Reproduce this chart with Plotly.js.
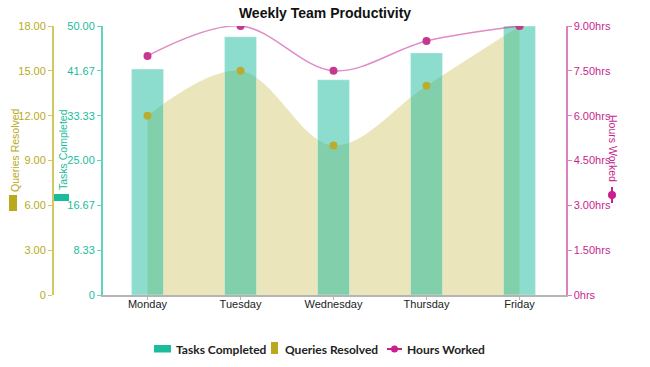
<!DOCTYPE html>
<html>
<head>
<meta charset="utf-8">
<script src="https://cdn.plot.ly/plotly-3.0.1.min.js"></script>
<style>
html,body{margin:0;padding:0;background:#fff;}
#chart{width:650px;height:367px;}
</style>
</head>
<body>
<div id="chart"></div>
<script>
// ---- data ----
const days = ['Monday', 'Tuesday', 'Wednesday', 'Thursday', 'Friday'];
const tasksCompleted = [42, 48, 40, 45, 50];
const queriesResolved = [12, 15, 10, 14, 18];
const hoursWorked = [8, 9, 7.5, 8.5, 9];

const queryTickVals = [0, 3, 6, 9, 12, 15, 18];
const queryTickText = ['0', '3.00', '6.00', '9.00', '12.00', '15.00', '18.00'];
const taskTickVals = [0, 8.333333, 16.666667, 25, 33.333333, 41.666667, 50];
const taskTickText = ['0', '8.33', '16.67', '25.00', '33.33', '41.67', '50.00'];
const hourTickVals = [0, 1.5, 3, 4.5, 6, 7.5, 9];
const hourTickText = ['0hrs', '1.50hrs', '3.00hrs', '4.50hrs', '6.00hrs', '7.50hrs', '9.00hrs'];

// ---- style ----
const olive = '#b8aa1c', oliveLine = '#d3c85e';
const teal = '#1abc9c', tealLine = '#62d4bd';
const pink = '#c71f8e', pinkLine = '#dc80c0';
const fontFam = 'Liberation Sans, Arial, sans-serif';
const legFam = 'Lato, Noto Sans, sans-serif';

// layout helpers: pixel -> paper coordinates (plot frame 52..566 x 26..295)
const L = 52, R = 566, T = 26, B = 295;
const px = v => (v - L) / (R - L);
const py = v => (B - v) / (B - T);

const traces = [
  {
    type: 'scatter', name: 'Queries Resolved', x: days, y: queriesResolved,
    xaxis: 'x', yaxis: 'y', mode: 'lines', fill: 'tozeroy',
    fillcolor: 'rgba(184,170,28,0.3)',
    line: {shape: 'spline', smoothing: 1, width: 0, color: 'rgba(0,0,0,0)'},
    showlegend: false
  },
  {
    type: 'bar', name: 'Tasks Completed', x: days, y: tasksCompleted,
    xaxis: 'x', yaxis: 'y2', width: 0.345,
    marker: {color: 'rgba(26,188,156,0.5)', line: {color: 'rgba(255,255,255,0.35)', width: 1}},
    showlegend: false
  },
  {
    type: 'scatter', name: 'Queries Resolved', x: days, y: queriesResolved,
    xaxis: 'x', yaxis: 'y3', mode: 'markers',
    marker: {size: 8, color: '#b9ac2e'}, showlegend: false
  },
  {
    type: 'scatter', name: 'Hours Worked', x: days, y: hoursWorked,
    xaxis: 'x', yaxis: 'y4', mode: 'lines+markers',
    line: {shape: 'spline', smoothing: 1, width: 1.5, color: 'rgba(204,60,160,0.6)'},
    marker: {size: 8, color: '#c5388f'}, showlegend: false
  }
];

const tickFont = c => ({family: fontFam, size: 11, color: c});

const shapes = [
  // axis-title icons
  {type: 'rect', xref: 'paper', yref: 'paper', x0: px(9), x1: px(17), y0: py(211), y1: py(195),
   fillcolor: olive, line: {width: 0}},
  {type: 'rect', xref: 'paper', yref: 'paper', x0: px(54), x1: px(69), y0: py(201), y1: py(194),
   fillcolor: teal, line: {width: 0}},
  {type: 'line', xref: 'paper', yref: 'paper', x0: px(612), x1: px(612), y0: py(187), y1: py(203),
   line: {color: pink, width: 2}},
  {type: 'circle', xref: 'paper', yref: 'paper', x0: px(608), x1: px(616), y0: py(199), y1: py(191),
   fillcolor: pink, line: {width: 0}},
  // legend swatches
  {type: 'rect', xref: 'paper', yref: 'paper', x0: px(154), x1: px(171), y0: py(352.5), y1: py(345),
   fillcolor: teal, line: {width: 0}},
  {type: 'rect', xref: 'paper', yref: 'paper', x0: px(271), x1: px(278), y0: py(354), y1: py(342),
   fillcolor: olive, line: {width: 0}},
  {type: 'line', xref: 'paper', yref: 'paper', x0: px(387), x1: px(402), y0: py(349), y1: py(349),
   line: {color: pink, width: 2}},
  {type: 'circle', xref: 'paper', yref: 'paper', x0: px(391), x1: px(398), y0: py(352.5), y1: py(345.5),
   fillcolor: pink, line: {width: 0}}
];

const annotations = [
  {text: 'Queries Resolved', xref: 'paper', yref: 'paper', x: px(15), y: py(150), textangle: -90,
   showarrow: false, font: {family: fontFam, size: 10.5, color: olive}, xanchor: 'center', yanchor: 'middle'},
  {text: 'Tasks Completed', xref: 'paper', yref: 'paper', x: px(63), y: py(150), textangle: -90,
   showarrow: false, font: {family: fontFam, size: 10.5, color: teal}, xanchor: 'center', yanchor: 'middle'},
  {text: 'Hours Worked', xref: 'paper', yref: 'paper', x: px(613), y: py(148), textangle: 90,
   showarrow: false, font: {family: fontFam, size: 10.5, color: pink}, xanchor: 'center', yanchor: 'middle'},
  {text: '<b>Tasks Completed</b>', xref: 'paper', yref: 'paper', x: px(174), y: py(349),
   showarrow: false, font: {family: legFam, size: 12, color: '#222'}, xanchor: 'left', yanchor: 'middle'},
  {text: '<b>Queries Resolved</b>', xref: 'paper', yref: 'paper', x: px(283), y: py(349),
   showarrow: false, font: {family: legFam, size: 12, color: '#222'}, xanchor: 'left', yanchor: 'middle'},
  {text: '<b>Hours Worked</b>', xref: 'paper', yref: 'paper', x: px(405), y: py(349),
   showarrow: false, font: {family: legFam, size: 12, color: '#222'}, xanchor: 'left', yanchor: 'middle'}
];

const layout = {
  width: 650, height: 367,
  margin: {l: L, r: 650 - R, t: T, b: 367 - B, pad: 0},
  paper_bgcolor: '#fff', plot_bgcolor: '#fff',
  showlegend: false,
  title: {text: '<b>Weekly Team Productivity</b>', xref: 'container', x: 0.5, xanchor: 'center',
          yref: 'container', y: 1 - 13 / 367, yanchor: 'middle',
          font: {family: fontFam, size: 14, color: '#111'}},
  xaxis: {
    domain: [px(101), 1], type: 'category', range: [-0.5, 4.5],
    showline: true, linecolor: '#b5b5b5', linewidth: 1.5,
    ticks: 'outside', ticklen: 3, tickcolor: '#b5b5b5',
    ticklabelstandoff: -5,
    showgrid: false, zeroline: false, tickfont: tickFont('#222')
  },
  yaxis: {
    range: [0, 18], tickvals: queryTickVals, ticktext: queryTickText,
    anchor: 'free', position: 0, side: 'left',
    showline: true, linecolor: oliveLine, linewidth: 1.5,
    ticks: 'outside', ticklen: 4, tickcolor: oliveLine,
    showgrid: false, zeroline: false, tickfont: tickFont(olive)
  },
  yaxis2: {
    range: [0, 50], tickvals: taskTickVals, ticktext: taskTickText,
    anchor: 'free', position: px(101), side: 'left', overlaying: 'y',
    showline: true, linecolor: tealLine, linewidth: 1.5,
    ticks: 'outside', ticklen: 4, tickcolor: tealLine,
    showgrid: false, zeroline: false, tickfont: tickFont(teal)
  },
  yaxis3: {
    range: [0, 18], overlaying: 'y', visible: false, showgrid: false, zeroline: false
  },
  yaxis4: {
    range: [0, 9], tickvals: hourTickVals, ticktext: hourTickText,
    anchor: 'x', side: 'right', overlaying: 'y',
    showline: true, linecolor: pinkLine, linewidth: 1.5,
    ticks: 'outside', ticklen: 4, tickcolor: pinkLine,
    showgrid: false, zeroline: false, tickfont: tickFont(pink)
  },
  shapes: shapes,
  annotations: annotations
};

Plotly.newPlot('chart', traces, layout, {displayModeBar: false, staticPlot: true});
</script>
</body>
</html>
